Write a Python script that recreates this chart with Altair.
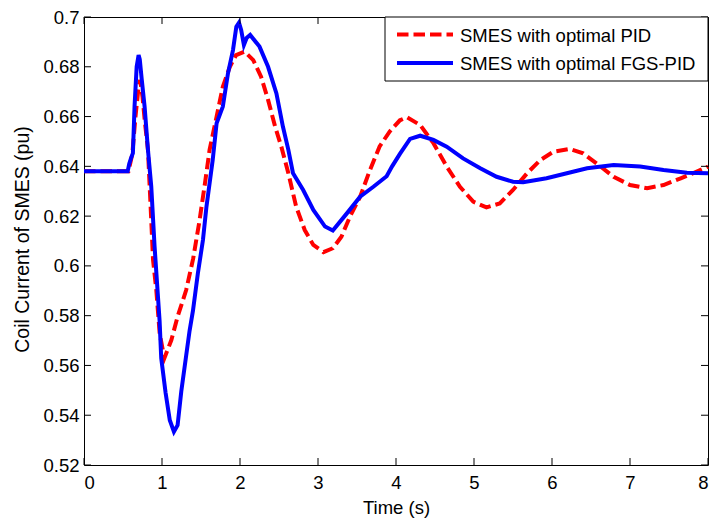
import altair as alt
import pandas as pd

# ---- data ----
t_pid = [0.0, 0.57, 0.62, 0.66, 0.70, 0.72, 0.75, 0.78, 0.82, 0.86, 0.885, 0.927, 0.97,
         1.03, 1.12, 1.20, 1.31, 1.40, 1.48, 1.55, 1.61, 1.70, 1.78, 1.87, 1.95, 2.06, 2.17,
         2.27, 2.36, 2.45, 2.53, 2.62, 2.72, 2.83, 2.94, 3.07, 3.19, 3.30, 3.41, 3.54, 3.66,
         3.79, 3.92, 4.05, 4.14, 4.31, 4.48, 4.65, 4.82, 4.99, 5.16, 5.33, 5.50, 5.68, 5.85,
         6.02, 6.23, 6.40, 6.57, 6.79, 7.00, 7.22, 7.43, 7.65, 7.82, 8.0]
v_pid = [0.638, 0.638, 0.645, 0.660, 0.672, 0.6747, 0.668, 0.658, 0.6466, 0.6198, 0.6024,
         0.5903, 0.5729, 0.5629, 0.5702, 0.5796, 0.5903, 0.603, 0.618, 0.633, 0.6466, 0.660,
         0.672, 0.680, 0.6847, 0.6861, 0.6827, 0.676, 0.6667, 0.656, 0.6479, 0.6372, 0.6238,
         0.6144, 0.6084, 0.6055, 0.6071, 0.6117, 0.6198, 0.6278, 0.638, 0.648, 0.654, 0.6585,
         0.6597, 0.6566, 0.6493, 0.6399, 0.6318, 0.6258, 0.6235, 0.6251, 0.6305, 0.6372,
         0.6425, 0.6459, 0.647, 0.6452, 0.6412, 0.6358, 0.6325, 0.6312, 0.6325, 0.6352,
         0.6374, 0.6399]

t_fgs = [0.0, 0.56, 0.58, 0.60, 0.627, 0.648, 0.675, 0.70, 0.715, 0.74, 0.777, 0.82, 0.862,
         0.905, 0.969, 0.99, 1.046, 1.10, 1.153, 1.20, 1.247, 1.31, 1.354, 1.397, 1.46, 1.525,
         1.57, 1.65, 1.70, 1.78, 1.846, 1.91, 1.953, 1.987, 2.015, 2.05, 2.085, 2.13, 2.25,
         2.36, 2.467, 2.55, 2.62, 2.68, 2.81, 2.94, 3.09, 3.19, 3.37, 3.54, 3.71, 3.88, 3.95,
         4.05, 4.18, 4.31, 4.48, 4.65, 4.86, 5.08, 5.29, 5.50, 5.63, 5.93, 6.19, 6.45, 6.79,
         7.13, 7.43, 7.73, 8.0]
v_fgs = [0.638, 0.638, 0.641, 0.643, 0.6453, 0.664, 0.680, 0.6847, 0.683, 0.675, 0.664,
         0.6466, 0.632, 0.6077, 0.578, 0.563, 0.549, 0.538, 0.5334, 0.536, 0.5495, 0.564,
         0.574, 0.582, 0.597, 0.6104, 0.6238, 0.6425, 0.6573, 0.664, 0.6774, 0.6867, 0.6961,
         0.6977, 0.6948, 0.6888, 0.6916, 0.6928, 0.6881, 0.680, 0.6693, 0.656, 0.6466, 0.6372,
         0.6305, 0.6225, 0.6158, 0.6142, 0.6211, 0.6278, 0.6318, 0.636, 0.640, 0.645, 0.651,
         0.6523, 0.6506, 0.6479, 0.6432, 0.6392, 0.6358, 0.6338, 0.6336, 0.6352, 0.6372,
         0.6392, 0.6405, 0.6399, 0.6385, 0.6374, 0.6372]

x_ticks = [0, 1, 2, 3, 4, 5, 6, 7, 8]
y_ticks = [0.52, 0.54, 0.56, 0.58, 0.60, 0.62, 0.64, 0.66, 0.68, 0.70]
series_names = ["SMES with optimal PID", "SMES with optimal FGS-PID"]
series_colors = ["#ff0000", "#0000ff"]

# ---- layout ----
W, H = 624, 448
FONT = "Liberation Sans"
FS = 18.5
TICK = 7

df_pid = pd.DataFrame({"t": t_pid, "v": v_pid})
df_fgs = pd.DataFrame({"t": t_fgs, "v": v_fgs})
df_xt = pd.DataFrame({"t": x_ticks})
df_yt = pd.DataFrame({"v": y_ticks})

x_scale = alt.Scale(domain=[0, 8], nice=False, zero=False)
y_scale = alt.Scale(domain=[0.52, 0.70], nice=False, zero=False)

ax_x = alt.Axis(values=x_ticks, format="d", ticks=False, tickSize=0, domain=False, grid=False,
                labelPadding=8, title="Time (s)", titleY=48, titleBaseline="alphabetic")
ax_y = alt.Axis(values=y_ticks, format=".2~f", ticks=False, tickSize=0, domain=False, grid=False,
                labelPadding=5, title="Coil Current of SMES (pu)", titleX=-56, titleY=222,
                titleAngle=-90, titleAlign="center", titleBaseline="alphabetic",
                titleFontSize=19.5)

X = alt.X("t:Q", scale=x_scale, axis=ax_x)
Y = alt.Y("v:Q", scale=y_scale, axis=ax_y)

red = alt.Chart(df_pid).mark_line(color=series_colors[0], strokeWidth=4,
                                  strokeDash=[11.5, 5]).encode(x=X, y=Y)
blue = alt.Chart(df_fgs).mark_line(color=series_colors[1], strokeWidth=4).encode(x=X, y=Y)

xt_bottom = alt.Chart(df_xt).mark_rule(color="black", strokeWidth=1).encode(
    x=X, y=alt.value(H), y2=alt.value(H - TICK))
xt_top = alt.Chart(df_xt).mark_rule(color="black", strokeWidth=1).encode(
    x=X, y=alt.value(0), y2=alt.value(TICK))
yt_left = alt.Chart(df_yt).mark_rule(color="black", strokeWidth=1).encode(
    y=Y, x=alt.value(0), x2=alt.value(TICK))
yt_right = alt.Chart(df_yt).mark_rule(color="black", strokeWidth=1).encode(
    y=Y, x=alt.value(W), x2=alt.value(W - TICK))

# ---- legend (drawn inside the plot, top-right) ----
leg_df = pd.DataFrame({"label": [series_names[0]]})
leg_box = alt.Chart(leg_df).mark_rect(fill="white", stroke="black", strokeWidth=1).encode(
    x=alt.value(301), x2=alt.value(W), y=alt.value(0), y2=alt.value(64))

leg_layers = [leg_box]
rows_y = [17.5, 46]
for name, col, ry, dash in zip(series_names, series_colors, rows_y, [[11.5, 5], [1, 0]]):
    d = pd.DataFrame({"label": [name]})
    leg_layers.append(
        alt.Chart(d).mark_rule(color=col, strokeWidth=4, strokeDash=dash).encode(
            x=alt.value(313), x2=alt.value(369), y=alt.value(ry)))
    leg_layers.append(
        alt.Chart(d).mark_text(align="left", baseline="middle", font=FONT, fontSize=FS,
                               color="black").encode(
            x=alt.value(376), y=alt.value(ry + 1), text="label:N"))

chart = alt.layer(red, blue, xt_bottom, xt_top, yt_left, yt_right, *leg_layers).properties(
    width=W, height=H,
    autosize=alt.AutoSizeParams(type="none"),
    padding={"left": 84, "top": 17, "right": 4, "bottom": 55},
    background="white",
).configure_view(stroke="black", strokeWidth=1).configure_axis(
    labelFont=FONT, labelFontSize=FS, labelColor="black",
    titleFont=FONT, titleFontSize=FS, titleColor="black", titleFontWeight="normal",
)

chart.save("out.html", embed_options={"renderer": "svg", "actions": False})
